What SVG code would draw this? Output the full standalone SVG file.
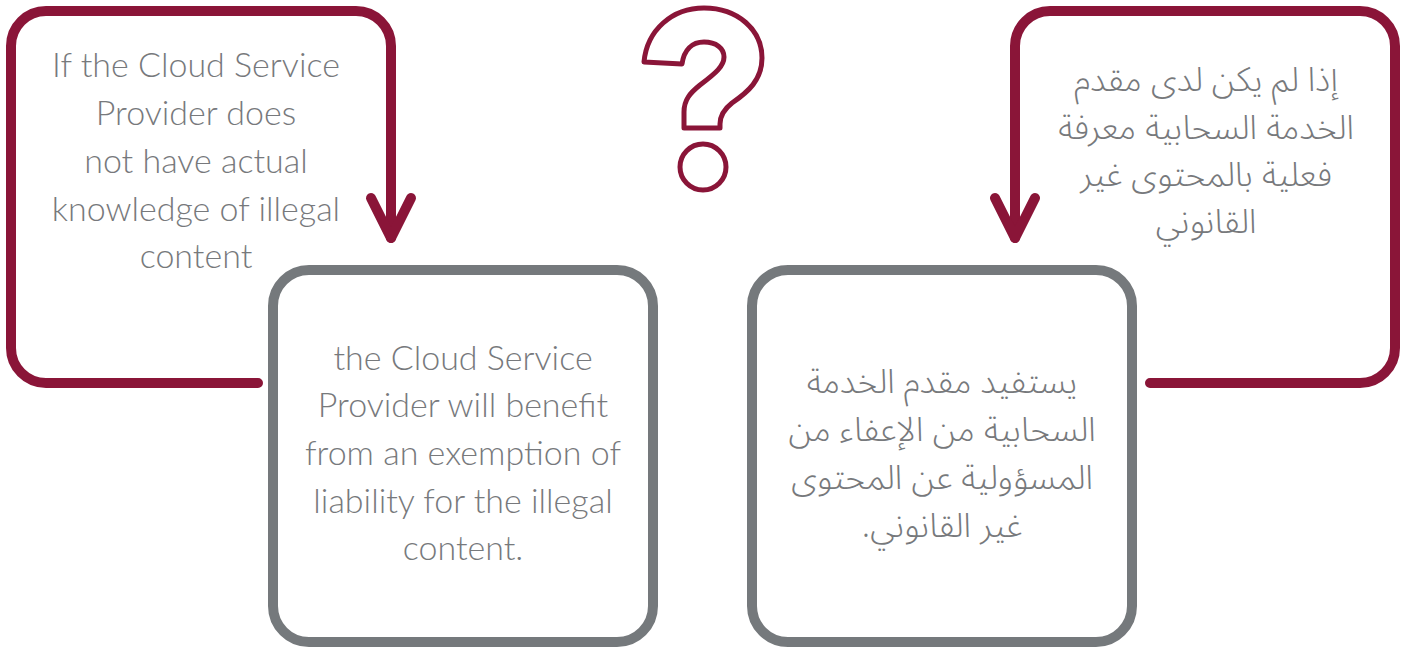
<svg xmlns="http://www.w3.org/2000/svg" width="1408" height="648" viewBox="0 0 1408 648">
<style>
.frame{fill:none;stroke:#8a1538;stroke-width:10;stroke-linecap:round;stroke-linejoin:round}
.box{fill:#ffffff;stroke:#75797c;stroke-width:10}
.en{font-family:"Lato","Open Sans","Liberation Sans",sans-serif;font-weight:300;font-size:34px;fill:#77797c;text-anchor:middle}
.ar{font-family:"Noto Sans Arabic","DejaVu Sans","Noto Sans",sans-serif;font-weight:300;font-size:34px;fill:#77797c;text-anchor:middle}
.q{fill:none;stroke:#8a1538;stroke-width:5;stroke-linejoin:round}
</style>
<rect width="1408" height="648" fill="#ffffff"/>
<g id="connectors">
<path class="frame" d="M258 383 L46 383 A35 35 0 0 1 11 348 L11 46 A35 35 0 0 1 46 11 L356 11 A35 35 0 0 1 391 46 L391 238"/>
<path class="frame" d="M371 198 L391 238 L411 198"/>
<path class="frame" d="M1150 383 L1360 383 A35 35 0 0 0 1395 348 L1395 46 A35 35 0 0 0 1360 11 L1050 11 A35 35 0 0 0 1015 46 L1015 238"/>
<path class="frame" d="M995 198 L1015 238 L1035 198"/>
</g>
<g id="question-mark">
<path class="q" d="M644 62 C647 30 672 8 704 8 C738 8 762 30 762 58 C762 80 748 92 732 103 C723 110 720 116 720 124 L720 128 L684 128 L684 112 C684 100 690 93 700 85 C716 73 724 66 724 57 C724 48 716 42 704 42 C692 42 684 50 682 64 Z"/>
<circle class="q" cx="703" cy="167" r="23"/>
</g>
<g id="node-condition-en">
<text class="en" x="196" y="77">If the Cloud Service</text>
<text class="en" x="196" y="125">Provider does</text>
<text class="en" x="196" y="173">not have actual</text>
<text class="en" x="196" y="221">knowledge of illegal</text>
<text class="en" x="196" y="268">content</text>
</g>
<g id="node-result-en">
<rect class="box" x="273" y="270" width="380" height="372" rx="36"/>
<text class="en" x="463" y="370">the Cloud Service</text>
<text class="en" x="463" y="417">Provider will benefit</text>
<text class="en" x="463" y="465">from an exemption of</text>
<text class="en" x="463" y="513">liability for the illegal</text>
<text class="en" x="463" y="560">content.</text>
</g>
<g id="node-condition-ar">
<text class="ar" x="1206" y="91" direction="rtl">إذا لم يكن لدى مقدم</text>
<text class="ar" x="1206" y="139" direction="rtl">الخدمة السحابية معرفة</text>
<text class="ar" x="1206" y="186" direction="rtl">فعلية بالمحتوى غير</text>
<text class="ar" x="1206" y="233" direction="rtl">القانوني</text>
</g>
<g id="node-result-ar">
<rect class="box" x="752" y="270" width="380" height="372" rx="36"/>
<text class="ar" x="942" y="393" direction="rtl">يستفيد مقدم الخدمة</text>
<text class="ar" x="942" y="441" direction="rtl">السحابية من الإعفاء من</text>
<text class="ar" x="942" y="489" direction="rtl">المسؤولية عن المحتوى</text>
<text class="ar" x="942" y="537" direction="rtl">غير القانوني.</text>
</g>
</svg>
